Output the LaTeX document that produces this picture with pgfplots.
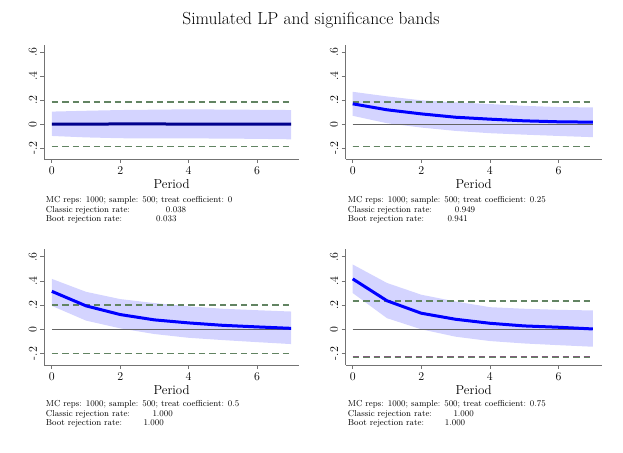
\documentclass[border=0pt]{standalone}
\usepackage{pgfplots}
\pgfplotsset{compat=1.18}
\usepgfplotslibrary{fillbetween}
\definecolor{band}{RGB}{212,212,255}
\definecolor{est}{RGB}{0,0,255}
\definecolor{cvg}{RGB}{98,132,98}
\definecolor{cvp}{RGB}{130,92,124}
\definecolor{zl}{RGB}{100,100,100}

\pgfplotstableread{
x est u l
0 0.000 0.105 -0.098
1 0.001 0.112 -0.110
2 0.002 0.118 -0.117
3 0.002 0.121 -0.118
4 0.001 0.124 -0.118
5 0.001 0.122 -0.120
6 0.000 0.120 -0.122
7 0.000 0.118 -0.126
}\tA
\pgfplotstableread{
x est u l
0 0.170 0.270 0.070
1 0.120 0.232 0.008
2 0.086 0.199 -0.028
3 0.058 0.182 -0.056
4 0.042 0.168 -0.075
5 0.028 0.153 -0.087
6 0.020 0.143 -0.098
7 0.017 0.140 -0.108
}\tB
\pgfplotstableread{
x est u l
0 0.314 0.417 0.194
1 0.194 0.310 0.072
2 0.122 0.250 0.008
3 0.078 0.217 -0.039
4 0.053 0.190 -0.070
5 0.033 0.170 -0.089
6 0.020 0.158 -0.106
7 0.008 0.147 -0.122
}\tC
\pgfplotstableread{
x est u l
0 0.417 0.536 0.300
1 0.236 0.383 0.092
2 0.133 0.286 0.000
3 0.083 0.230 -0.061
4 0.050 0.183 -0.097
5 0.028 0.170 -0.117
6 0.017 0.161 -0.131
7 0.003 0.156 -0.144
}\tD

\pgfplotsset{
  panel/.style={
    scale only axis, anchor=south west,
    axis x line=bottom, axis y line=left,
    axis line style={-, draw=black!55, line width=0.8bp},
    xtick={0,2,4,6},
    ytick={-0.2,0,0.2,0.4,0.6}, yticklabels={-.2,0,.2,.4,.6},
    tick align=outside, major tick length=4bp,
    tick style={draw=black!55, line width=0.7bp},
    ticklabel style={font=\fontsize{12}{12}\selectfont},
    yticklabel style={rotate=90, anchor=south, xshift=0bp},
    xticklabel style={yshift=-0.5bp},
    xlabel={Period},
    xlabel style={at={(rel axis cs:0.5,0)}, anchor=center, yshift=-25bp, font=\fontsize{13}{13}\selectfont},
  },
  dcv/.style={line width=1.4bp, dash pattern=on 6.5bp off 4bp},
}

% #1 table, #2 green cv, #3 purple cv, #4 line colour
\newcommand{\panelbody}[4]{%
  \addplot[name path=u, draw=none, forget plot] table[x=x,y=u]{#1};
  \addplot[name path=l, draw=none, forget plot] table[x=x,y=l]{#1};
  \addplot[band, draw=none, forget plot] fill between[of=u and l];
  \addplot[cvp, dcv, forget plot] coordinates {(0,#3) (7,#3)};
  \addplot[cvp, dcv, forget plot] coordinates {(0,-#3) (7,-#3)};
  \addplot[cvg, dcv, forget plot] coordinates {(0,#2) (7,#2)};
  \addplot[cvg, dcv, forget plot] coordinates {(0,-#2) (7,-#2)};
  \addplot[zl, line width=0.8bp, forget plot] coordinates {(0,0) (7,0)};
  \addplot[#4, line width=3bp, forget plot] table[x=x,y=est]{#1};
}

\begin{document}
\begin{tikzpicture}
\path (0,0) rectangle (623bp,453bp);

\node[font=\fontsize{17.5}{17.5}\selectfont] at (311bp,432.5bp) {Simulated LP and significance bands};

% top-left
\begin{axis}[panel, at={(44.3bp,294bp)}, width=254.7bp, height=114bp,
  xmin=-0.22, xmax=7.23, ymin=-0.29, ymax=0.66]
\panelbody{\tA}{0.186}{0.186}{est!55!black}
\end{axis}
% top-right
\begin{axis}[panel, at={(345.7bp,294bp)}, width=256bp, height=114bp,
  xmin=-0.204, xmax=7.26, ymin=-0.29, ymax=0.66]
\panelbody{\tB}{0.186}{0.186}{est}
\end{axis}
% bottom-left
\begin{axis}[panel, at={(44.3bp,88bp)}, width=254.7bp, height=116bp,
  xmin=-0.22, xmax=7.23, ymin=-0.295, ymax=0.664]
\panelbody{\tC}{0.202}{0.198}{est}
\end{axis}
% bottom-right
\begin{axis}[panel, at={(345.7bp,88bp)}, width=256bp, height=116bp,
  xmin=-0.204, xmax=7.26, ymin=-0.295, ymax=0.664]
\panelbody{\tD}{0.234}{0.230}{est}
\end{axis}

\begin{scope}[every node/.style={font=\fontsize{8.7}{8.7}\selectfont, anchor=base west, inner sep=0pt}]
\node at (45.7bp,250.5bp) {MC reps: 1000; sample: 500; treat coefficient: 0};
\node at (45.7bp,240.8bp) {Classic rejection rate:};
\node at (165.7bp,240.8bp) {0.038};
\node at (45.7bp,231.5bp) {Boot rejection rate:};
\node at (156bp,231.5bp) {0.033};
\node at (347.7bp,250.5bp) {MC reps: 1000; sample: 500; treat coefficient: 0.25};
\node at (347.7bp,240.8bp) {Classic rejection rate:};
\node at (454.7bp,240.8bp) {0.949};
\node at (347.7bp,231.5bp) {Boot rejection rate:};
\node at (447.3bp,231.5bp) {0.941};
\node at (45.7bp,46.5bp) {MC reps: 1000; sample: 500; treat coefficient: 0.5};
\node at (45.7bp,36.8bp) {Classic rejection rate:};
\node at (152.3bp,36.8bp) {1.000};
\node at (45.7bp,27.5bp) {Boot rejection rate:};
\node at (143.3bp,27.5bp) {1.000};
\node at (347.7bp,46.5bp) {MC reps: 1000; sample: 500; treat coefficient: 0.75};
\node at (347.7bp,36.8bp) {Classic rejection rate:};
\node at (453.3bp,36.8bp) {1.000};
\node at (347.7bp,27.5bp) {Boot rejection rate:};
\node at (444.7bp,27.5bp) {1.000};
\end{scope}
\end{tikzpicture}
\end{document}
